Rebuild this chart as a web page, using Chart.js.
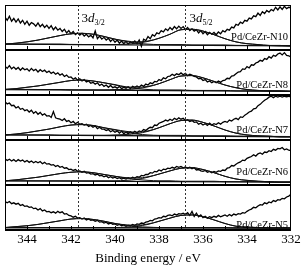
<!DOCTYPE html>
<html>
<head>
<meta charset="utf-8">
<script src="https://cdn.jsdelivr.net/npm/chart.js@4"></script>
<style>
  html, body { margin: 0; padding: 0; background: #fff; }
</style>
</head>
<body>
<canvas id="xps" width="308" height="269"></canvas>
<script>
// panels, top to bottom
const samples = ['Pd/CeZr-N10', 'Pd/CeZr-N8', 'Pd/CeZr-N7', 'Pd/CeZr-N6', 'Pd/CeZr-N5'];
const tickValues = [344, 342, 340, 338, 336, 334, 332];
const peakPositions = [341.7, 336.8];
const peakNames = ['3/2', '5/2'];

// measured spectra, 345 -> 332 eV every 0.1 eV (intensity scaled to panel height)
const energy = [];
for (let i = 0; i <= 130; i++) energy.push(+(345 - 0.1 * i).toFixed(1));

const specN10 = [.73,.66,.75,.64,.70, .62,.69,.60,.66,.57, .64,.55,.61,.58,.53, .60,.52,.57,.50,.55,
  .48,.54,.45,.51,.44, .48,.41,.46,.38,.43, .36,.41,.34,.38,.33, .37,.31,.35,.29,.33,
  .27,.42,.25,.31,.24, .28,.22,.26,.19,.24, .17,.22,.15,.20,.14, .19,.13,.18,.15,.20,
  .14,.22,.08,.24,.21, .30,.25,.34,.31,.38, .36,.43,.40,.47,.43, .50,.45,.52,.47,.53,
  .48,.52,.45,.50,.43, .47,.42,.45,.38,.43, .36,.41,.34,.39,.35, .39,.34,.40,.36,.43,
  .40,.46,.44,.51,.49, .57,.55,.62,.59,.66, .64,.71,.69,.76,.74, .82,.77,.85,.81,.88,
  .84,.90,.87,.95,.89, .96,.90,.97,.92,.95, .94];
const specN8 = [.64,.59,.65,.58,.62, .57,.61,.55,.60,.56, .58,.53,.59,.54,.57, .51,.56,.52,.55,.50,
  .53,.48,.51,.46,.49, .44,.47,.41,.44,.39, .40,.35,.38,.33,.36, .31,.34,.29,.31,.26,
  .28,.24,.27,.21,.24, .19,.22,.17,.21,.16, .18,.15,.19,.14,.17, .15,.18,.14,.19,.17,
  .20,.17,.22,.19,.24, .22,.27,.25,.30,.29, .34,.32,.38,.36,.41, .42,.46,.43,.47,.45,
  .49,.45,.48,.43,.46, .44,.41,.40,.36,.37, .32,.34,.29,.31,.27, .30,.27,.31,.28,.32,
  .33,.37,.36,.42,.43, .47,.51,.52,.58,.57, .63,.60,.67,.66,.71, .73,.77,.75,.81,.79,
  .85,.82,.88,.86,.91, .93,.89,.94,.88,.87, .84];
const specN7 = [.85,.80,.82,.76,.77, .71,.74,.68,.70,.65, .67,.62,.66,.59,.63, .57,.61,.55,.58,.53,
  .54,.50,.63,.49,.47, .46,.43,.47,.41,.43, .38,.41,.36,.39,.35, .36,.33,.35,.30,.32,
  .28,.31,.25,.28,.24, .24,.21,.23,.18,.21, .17,.20,.15,.19,.14, .17,.14,.18,.15,.19,
  .16,.20,.18,.23,.21, .25,.28,.27,.33,.32, .37,.39,.41,.44,.42, .46,.43,.48,.45,.49,
  .46,.48,.43,.45,.41, .43,.39,.40,.35,.37, .33,.36,.32,.37,.33, .36,.34,.38,.35,.39,
  .41,.39,.44,.42,.46, .48,.45,.51,.50,.55, .58,.62,.64,.69,.70, .76,.79,.84,.88,.91,
  .95,.97,.94,.97,.95, .97,.95,.97,.96,.97, .95];
const specN6 = [.58,.54,.57,.53,.56, .52,.56,.53,.55,.51, .54,.50,.53,.49,.52, .49,.52,.47,.50,.46,
  .47,.44,.45,.41,.43, .39,.41,.37,.38,.34, .35,.32,.34,.30,.31, .28,.30,.26,.27,.24,
  .25,.22,.24,.20,.21, .18,.20,.16,.18,.15, .17,.14,.16,.13,.15, .13,.16,.14,.17,.15,
  .18,.17,.21,.20,.23, .23,.27,.26,.30,.29, .33,.31,.35,.34,.37, .36,.39,.37,.41,.39,
  .41,.38,.40,.37,.39, .36,.38,.33,.34,.31, .30,.32,.28,.30,.27, .30,.28,.31,.30,.33,
  .32,.37,.38,.43,.42, .46,.49,.51,.55,.54, .59,.61,.63,.67,.64, .69,.71,.68,.73,.72,
  .76,.74,.79,.77,.81, .80,.83,.78,.80,.77, .76];
const specN5 = [.63,.60,.63,.58,.60, .57,.59,.54,.56,.52, .53,.50,.51,.47,.48, .44,.47,.42,.44,.40,
  .41,.38,.40,.37,.41, .38,.40,.35,.36,.32, .31,.28,.30,.26,.27, .24,.26,.22,.24,.21,
  .22,.19,.21,.17,.18, .15,.17,.13,.15,.12, .13,.10,.12,.09,.11, .08,.10,.09,.12,.10,
  .13,.12,.15,.14,.17, .18,.21,.20,.24,.25, .27,.26,.30,.29,.32, .33,.31,.35,.33,.36,
  .35,.37,.34,.38,.32, .41,.30,.37,.29,.33, .27,.30,.26,.29,.27, .30,.28,.32,.29,.31,
  .33,.30,.34,.31,.35, .33,.36,.35,.38,.37, .41,.44,.46,.50,.49, .53,.56,.55,.60,.58,
  .62,.60,.65,.63,.67, .66,.70,.69,.73,.75, .79];

// fitted curves, 345 -> 332 eV every 0.5 eV
const fitEnergy = [345,344.5,344,343.5,343,342.5,342,341.5,341,340.5,340,339.5,339,338.5,338,337.5,337,336.5,336,335.5,335,334.5,334,333.5,333,332.5,332];

const peakA_N10 = [0.13,0.15,0.18,0.22,0.27,0.32,0.36,0.37,0.35,0.30,0.24,0.19,0.15,0.13,0.12,0.12,0.12,0.11,0.11,0.11,0.11,0.10,0.10,0.10,0.10,0.09,0.09];
const peakB_N10 = [0.13,0.13,0.13,0.13,0.13,0.13,0.12,0.12,0.12,0.12,0.12,0.13,0.15,0.19,0.26,0.35,0.45,0.46,0.42,0.34,0.25,0.18,0.14,0.12,0.10,0.10,0.09];
const envel_N10 = [0.13,0.15,0.18,0.22,0.27,0.32,0.36,0.37,0.35,0.30,0.24,0.20,0.18,0.20,0.26,0.35,0.45,0.46,0.42,0.34,0.25,0.18,0.14,0.12,0.10,0.10,0.09];

const peakA_N8 = [0.12,0.14,0.17,0.20,0.24,0.28,0.32,0.33,0.31,0.27,0.22,0.17,0.14,0.12,0.11,0.11,0.11,0.10,0.10,0.10,0.10,0.09,0.09,0.09,0.09,0.08,0.08];
const peakB_N8 = [0.12,0.12,0.12,0.12,0.12,0.12,0.11,0.11,0.11,0.11,0.12,0.12,0.14,0.18,0.25,0.34,0.42,0.43,0.38,0.30,0.22,0.16,0.12,0.10,0.09,0.09,0.08];
const envel_N8 = [0.12,0.14,0.17,0.20,0.24,0.28,0.32,0.33,0.31,0.27,0.23,0.18,0.17,0.19,0.25,0.34,0.42,0.43,0.38,0.30,0.22,0.16,0.12,0.10,0.09,0.09,0.08];

const peakA_N7 = [0.11,0.13,0.16,0.20,0.24,0.29,0.33,0.34,0.32,0.27,0.22,0.17,0.13,0.11,0.10,0.10,0.10,0.09,0.09,0.09,0.09,0.08,0.08,0.08,0.08,0.07,0.07];
const peakB_N7 = [0.11,0.11,0.11,0.11,0.11,0.10,0.10,0.10,0.10,0.10,0.11,0.12,0.14,0.19,0.27,0.36,0.43,0.44,0.39,0.31,0.22,0.15,0.11,0.09,0.08,0.07,0.07];
const envel_N7 = [0.11,0.13,0.16,0.20,0.24,0.29,0.33,0.34,0.32,0.27,0.23,0.19,0.17,0.20,0.27,0.36,0.43,0.44,0.39,0.31,0.22,0.15,0.11,0.09,0.08,0.07,0.07];

const peakA_N6 = [0.09,0.11,0.14,0.17,0.21,0.25,0.28,0.29,0.27,0.23,0.19,0.15,0.12,0.10,0.09,0.09,0.08,0.08,0.08,0.08,0.07,0.07,0.07,0.07,0.06,0.06,0.06];
const peakB_N6 = [0.09,0.09,0.09,0.09,0.09,0.09,0.09,0.09,0.09,0.09,0.09,0.10,0.12,0.17,0.24,0.31,0.37,0.38,0.34,0.27,0.19,0.13,0.10,0.08,0.07,0.06,0.06];
const envel_N6 = [0.09,0.11,0.14,0.17,0.21,0.25,0.28,0.29,0.27,0.23,0.19,0.16,0.15,0.18,0.24,0.31,0.37,0.38,0.34,0.27,0.19,0.13,0.10,0.08,0.07,0.06,0.06];

const peakA_N5 = [0.05,0.07,0.09,0.12,0.16,0.20,0.24,0.25,0.23,0.19,0.14,0.10,0.07,0.06,0.05,0.05,0.05,0.05,0.05,0.05,0.05,0.04,0.04,0.04,0.04,0.04,0.04];
const peakB_N5 = [0.05,0.05,0.05,0.05,0.05,0.05,0.05,0.05,0.05,0.05,0.05,0.06,0.08,0.12,0.19,0.26,0.32,0.33,0.29,0.22,0.14,0.08,0.06,0.05,0.04,0.04,0.04];
const envel_N5 = [0.05,0.07,0.09,0.12,0.16,0.20,0.24,0.25,0.23,0.19,0.14,0.11,0.10,0.13,0.19,0.26,0.32,0.33,0.29,0.22,0.14,0.08,0.06,0.05,0.04,0.04,0.04];

// background line, value at 345 eV and at 332 eV
const bgEnergy = [345, 332];
const bgStart = [0.13, 0.12, 0.11, 0.09, 0.05];
const bgEnd = [0.09, 0.08, 0.07, 0.06, 0.04];

const spectra = [specN10, specN8, specN7, specN6, specN5];
const peaksA = [peakA_N10, peakA_N8, peakA_N7, peakA_N6, peakA_N5];
const peaksB = [peakB_N10, peakB_N8, peakB_N7, peakB_N6, peakB_N5];
const envelopes = [envel_N10, envel_N8, envel_N7, envel_N6, envel_N5];

const FONT = '"Liberation Serif", "Times New Roman", serif';

function pts(xs, ys, off) {
  return xs.map((e, i) => ({ x: e, y: ys[i] + off }));
}

const datasets = [];
samples.forEach((name, k) => {
  const off = samples.length - 1 - k;
  datasets.push({ label: name + ' bg', data: pts(bgEnergy, [bgStart[k], bgEnd[k]], off), borderColor: '#111', borderWidth: 1.3 });
  [peaksA[k], peaksB[k], envelopes[k]].forEach(arr => {
    datasets.push({ label: name + ' fit', data: pts(fitEnergy, arr, off), borderColor: '#111', borderWidth: 1,
      cubicInterpolationMode: 'monotone' });
  });
  datasets.push({ label: name, data: pts(energy, spectra[k], off), borderColor: '#000', borderWidth: 1.3, tension: 0 });
});

// panel label heights inside each panel (fraction of panel)
const labelHeights = [0.29, 0.22, 0.22, 0.29, 0.11];

const decor = {
  id: 'decor',
  afterDatasetsDraw(chart) {
    const { ctx, chartArea: a, scales: { x, y } } = chart;
    ctx.save();
    // dashed peak positions
    ctx.strokeStyle = '#333';
    ctx.lineWidth = 1;
    ctx.setLineDash([2, 2]);
    peakPositions.forEach(p => {
      const px = Math.round(x.getPixelForValue(p)) + 0.5;
      ctx.beginPath(); ctx.moveTo(px, a.top); ctx.lineTo(px, a.bottom); ctx.stroke();
    });
    ctx.setLineDash([]);

    // frame + panel separators
    ctx.strokeStyle = '#000';
    ctx.lineWidth = 1;
    ctx.strokeRect(a.left + 0.5, a.top + 0.5, a.right - a.left - 1, a.bottom - a.top - 1);
    ctx.lineWidth = 2;
    for (let k = 0; k < samples.length; k++) {
      const py = Math.round(y.getPixelForValue(k));
      ctx.beginPath(); ctx.moveTo(a.left, py); ctx.lineTo(a.right, py); ctx.stroke();
    }
    // inward minor ticks every 1 eV
    ctx.lineWidth = 1;
    for (let k = 0; k < samples.length; k++) {
      const py = Math.round(y.getPixelForValue(k)) - 1;
      for (let e = 333; e <= 344; e++) {
        const px = Math.round(x.getPixelForValue(e)) + 0.5;
        ctx.beginPath(); ctx.moveTo(px, py); ctx.lineTo(px, py - 3); ctx.stroke();
      }
    }

    // sample names
    ctx.fillStyle = '#000';
    ctx.font = '10.5px ' + FONT;
    ctx.textAlign = 'right';
    ctx.textBaseline = 'middle';
    samples.forEach((name, k) => {
      const off = samples.length - 1 - k;
      ctx.fillText(name, a.right - 3, y.getPixelForValue(off + labelHeights[k]));
    });

    // 3d labels
    ctx.textAlign = 'left';
    ctx.textBaseline = 'alphabetic';
    peakPositions.forEach((p, i) => {
      let tx = x.getPixelForValue(p) + 4;
      const ty = a.top + 17;
      ctx.font = '13px ' + FONT;
      ctx.fillText('3', tx, ty);
      tx += ctx.measureText('3').width;
      ctx.font = 'italic 13px ' + FONT;
      ctx.fillText('d', tx, ty);
      tx += ctx.measureText('d').width;
      ctx.font = '8px ' + FONT;
      ctx.fillText(peakNames[i], tx, ty + 3);
    });
    ctx.restore();
  }
};

new Chart(document.getElementById('xps'), {
  type: 'scatter',
  data: { datasets },
  options: {
    responsive: false,
    animation: false,
    showLine: true,
    elements: { point: { radius: 0 } },
    layout: { padding: { left: 5, top: 5, right: 17, bottom: 1 } },
    plugins: { legend: { display: false }, tooltip: { enabled: false } },
    scales: {
      x: {
        type: 'linear',
        min: 332,
        max: 345,
        reverse: true,
        afterBuildTicks: axis => { axis.ticks = tickValues.map(v => ({ value: v })); },
        grid: { display: false, drawTicks: false },
        border: { display: false },
        ticks: { color: '#000', font: { family: FONT, size: 13 }, padding: 2, maxRotation: 0 },
        title: { display: true, text: 'Binding energy / eV', color: '#000',
          font: { family: FONT, size: 13 }, padding: { top: 1, bottom: 2 } }
      },
      y: { type: 'linear', min: 0, max: 5, display: false }
    }
  },
  plugins: [decor]
});
</script>
</body>
</html>
